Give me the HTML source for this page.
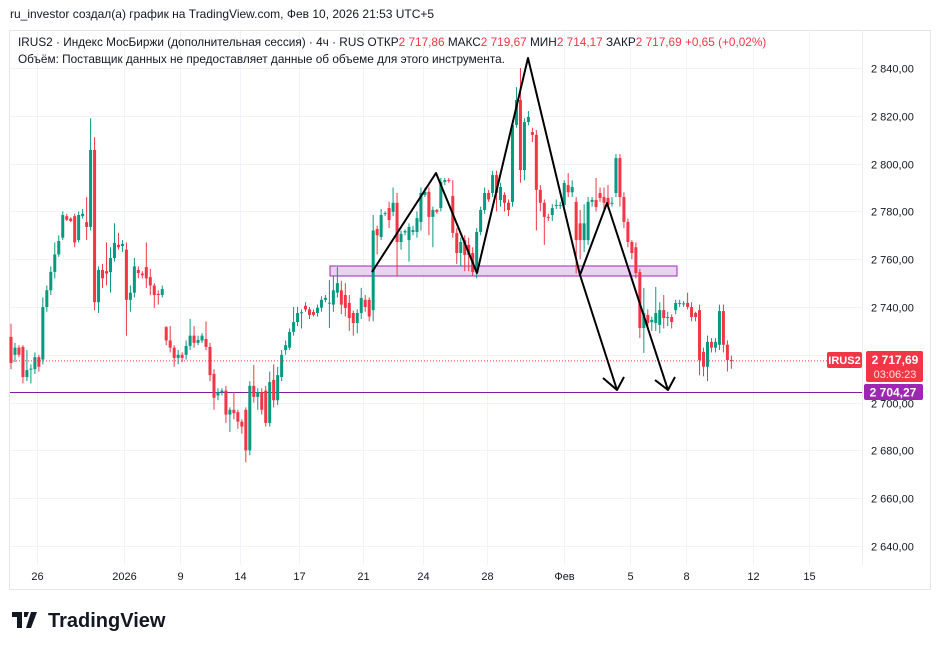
<!DOCTYPE html>
<html><head><meta charset="utf-8">
<style>
body{margin:0;background:#fff;width:941px;height:650px;overflow:hidden;font-family:"Liberation Sans","DejaVu Sans",sans-serif;}
svg{position:absolute;left:0;top:0}
</style></head>
<body>
<svg id="chart" width="941" height="650" xmlns="http://www.w3.org/2000/svg">
<text x="10" y="18" font-size="12" fill="#131722">ru_investor создал(а) график на TradingView.com, Фев 10, 2026 21:53 UTC+5</text>
<rect x="9.5" y="30.5" width="921" height="559" fill="none" stroke="#e6e6e6"/>
<g id="grid"></g>
<line x1="862.5" y1="30" x2="862.5" y2="565" stroke="#eee"/>
<g id="yaxis"></g>
<g id="xaxis"></g>
<rect x="330" y="266" width="347" height="10" fill="#ead3f2" stroke="#9c27b0" stroke-width="1"/>
<line x1="10" y1="392.5" x2="862" y2="392.5" stroke="#7b1fa2" stroke-width="1"/>
<g id="candles"></g>
<line id="lastline" x1="10" x2="862" stroke="#f23645" stroke-dasharray="1,2"/>
<g fill="none" stroke="#000" stroke-width="2" stroke-linejoin="round">
<polyline points="372,272 436,173 477,273 528,58 580,275 607,203 668,390"/>
<polyline points="580,275 617,390"/>
<polyline points="603,378 617,390 624,377"/>
<polyline points="655,380 668,390 675,377"/>
</g>
<g font-size="11.8" fill="#131722">
<text x="18" y="46">IRUS2 · Индекс МосБиржи (дополнительная сессия) · 4ч · RUS  ОТКР<tspan fill="#f23645">2 717,86</tspan>  МАКС<tspan fill="#f23645">2 719,67</tspan>  МИН<tspan fill="#f23645">2 714,17</tspan>  ЗАКР<tspan fill="#f23645">2 717,69</tspan> <tspan fill="#f23645">+0,65 (+0,02%)</tspan></text>
<text x="18" y="63">Объём: Поставщик данных не предоставляет данные об объеме для этого инструмента.</text>
</g>
<rect x="827" y="352" width="35" height="16" rx="2" fill="#f23645"/>
<text x="844.5" y="364" font-size="11" font-weight="bold" fill="#fff" text-anchor="middle">IRUS2</text>
<rect x="866" y="351" width="57" height="31" rx="2" fill="#f23645"/>
<text x="895" y="364" font-size="12" font-weight="bold" fill="#fff" text-anchor="middle">2 717,69</text>
<text x="895" y="378" font-size="11" fill="#fde0e3" text-anchor="middle">03:06:23</text>
<rect x="864" y="384" width="59" height="16" rx="2" fill="#9c27b0"/>
<text x="893" y="396.5" font-size="12" font-weight="bold" fill="#fff" text-anchor="middle">2 704,27</text>
<g>
<path d="M12 612h10v16h-5v-11h-5z M24 612h5l-2 5h-3z" fill="#131722"/>
<path d="M31 612h6l-6 16h-5z" fill="#131722"/>
<text x="48" y="627" font-size="20" font-weight="bold" fill="#131722">TradingView</text>
</g>
</svg>
<script>
const opens=[2727.5,2720,2723,2723.3,2710.7,2714,2714,2719,2718,2740,2747,2754.7,2762,2769,2778,2777,2778,2768,2778,2775.5,2773.5,2805.7,2742,2755.5,2755,2754.6,2760.5,2766,2765.5,2764,2743,2746,2755.5,2754,2756.7,2752.5,2749,2745.5,2745,2731.6,2726,2723,2718.7,2720,2720,2723.7,2728,2725,2726,2726.6,2723.3,2712,2703,2704.4,2705,2695,2697,2696,2692,2697,2680,2707,2702.4,2704.4,2705,2691.5,2709.5,2701,2710.7,2722,2723,2729.6,2733.7,2737.5,2740.5,2739,2737.9,2737.5,2739.7,2743,2741.7,2741,2746,2747,2745,2741.7,2737.5,2733.3,2737.5,2743,2743,2738.7,2772.6,2769.3,2779,2781.4,2779.8,2783.6,2767.2,2771.2,2768,2771.4,2771.4,2775.6,2786.9,2788.2,2777.7,2780.6,2781.4,2792.3,2793.1,2786.4,2771,2762.6,2768,2766,2762.6,2754.6,2771.4,2780.6,2787.7,2787.7,2795.2,2784.8,2786.9,2783.6,2784,2816.2,2826.6,2797.3,2817.4,2813.2,2812,2789,2783.6,2777.7,2778.5,2782.3,2782.7,2782.7,2791,2788,2784,2775,2768,2768,2784,2784.8,2787.7,2786,2785.6,2783.6,2787.7,2802.3,2786,2775.6,2767.2,2765,2754.6,2731.2,2736.7,2733.7,2733.3,2732.5,2738.7,2735.8,2735.8,2738.7,2741.7,2741.5,2741.7,2740,2737.5,2738.7,2721.2,2715,2725.4,2723,2724.2,2738.3,2724.2,2717.86];
const highs=[2733,2725,2724,2724,2722,2716,2721,2720,2744,2749,2757,2767,2770,2780,2779,2777.5,2779,2780,2781,2786,2819,2811,2757,2758,2767,2765,2775,2771,2768,2767,2749,2760.5,2757,2755,2767,2756,2750,2747,2749,2732,2732,2724,2722,2721,2726,2735,2732,2728,2729,2734,2725,2714,2706,2706,2707,2698,2704.4,2697,2693,2698,2709,2715.7,2706,2706,2707,2713,2716,2715,2722,2726,2731,2740,2740,2739,2742,2740,2739,2741,2744.5,2745,2751.3,2753,2756.7,2751,2750,2745,2738.5,2739,2748,2745,2744,2778.5,2774,2781,2780,2784,2790,2787.7,2772,2772.5,2775,2774,2780,2790,2790,2790,2782,2781,2794,2794,2794,2793,2773,2769,2770,2769,2765,2773,2782,2790,2789,2797,2797,2792,2788,2785,2818,2832,2840,2819,2822,2815,2814,2791,2785,2779,2783,2785,2784,2793,2796,2793,2786,2780.6,2783,2786,2786,2794,2790,2790,2791,2786,2804,2804,2788,2777,2768,2767,2756,2748,2739,2736,2748.4,2742,2745,2738,2737,2743,2743,2742.5,2746,2742,2738,2741,2723,2728,2727,2727,2741,2741,2726,2719.67];
const lows=[2714,2717,2719,2708,2709,2708,2712,2713,2716,2738,2745,2752,2761,2768,2776,2775.5,2765,2767,2777,2768,2772,2738.7,2737.5,2748,2749,2746,2759,2764,2763,2728,2738,2744,2752,2752,2748,2745,2739.6,2741,2744,2724,2721,2715,2716,2717,2718,2722,2723,2724,2725,2722,2709,2697,2701,2703,2691.5,2687.7,2693,2689,2687,2675,2678,2700,2697,2695,2690,2690,2698,2699,2709,2720,2722,2728,2732,2731,2738,2735,2736,2736,2738,2742,2731.2,2738,2744,2737,2736,2730,2728,2729,2735,2738,2734,2734,2762,2768,2778,2773,2778,2753,2764,2770,2759,2770,2769,2772,2786,2770,2765,2779,2780,2791,2792,2769,2758,2757,2755,2755,2753,2752,2770,2779,2784,2786,2780,2782,2780,2778,2782,2815,2792,2793,2816,2809,2772,2780,2766,2776,2776,2781,2781,2780,2786,2786,2754,2760,2763,2766,2782,2780,2784,2780,2781,2782,2786,2782,2773,2765,2760,2752,2727,2720.8,2731,2730,2730,2729,2731,2732,2731,2737,2740,2740,2739,2734,2734,2711.5,2711,2709,2721,2721,2722,2721,2713,2714.17];
const closes=[2716.6,2723,2720,2710.7,2713.6,2714.2,2719,2715,2740,2747,2754.7,2762,2767.6,2778.5,2776.5,2776,2767,2778.5,2779,2773.5,2805.7,2742,2755.5,2752,2754,2760.5,2766.8,2765,2766.4,2743,2746,2757,2754.2,2753.3,2752,2749,2745,2745,2747.5,2726,2723,2718.7,2720,2718.7,2723.7,2728,2725,2726.2,2728,2723.3,2711.5,2702,2704.4,2705,2695,2697,2695.6,2692,2690,2680,2707,2702.4,2704.4,2697,2691.5,2708.6,2701,2711.5,2720,2724,2729.6,2733.7,2737.5,2737.8,2739,2736.7,2736.7,2739.7,2743,2743.8,2741.8,2747,2750,2741,2739.6,2735.4,2733.3,2737.5,2743.8,2740,2736,2772,2770,2778.5,2779.3,2776.4,2783.6,2767.2,2770.6,2771.8,2773.5,2772.2,2777.2,2787.7,2788.2,2777.7,2780.6,2779.8,2792.3,2793.1,2793,2771,2762.6,2767.2,2761.8,2761.8,2754.6,2771.4,2780.6,2787.7,2785,2795.2,2787.7,2790.2,2783.6,2780.6,2816.2,2826.6,2797.3,2817.4,2819.5,2812,2789,2783.6,2777.7,2777.4,2781.4,2782.7,2782.7,2791.9,2788,2790.2,2768,2768,2775,2784,2784.8,2781.8,2785.6,2783.6,2782.7,2783.6,2802.3,2786,2775.6,2767.2,2762.6,2754.2,2731.2,2737.5,2733.3,2734.6,2737.5,2738.7,2735.4,2735.8,2733.7,2741.7,2741.7,2741.5,2740,2735.8,2735.8,2717.8,2715,2725.4,2723,2725.4,2738.3,2724.2,2717.8,2717.69];
const priceTicks=[2840,2820,2800,2780,2760,2740,2720,2700,2680,2660,2640];
const tickLabels=["2 840,00","2 820,00","2 800,00","2 780,00","2 760,00","2 740,00","2 720,00","2 700,00","2 680,00","2 660,00","2 640,00"];
const dateLabels=["26","2026","9","14","17","21","24","28","Фев","5","8","12","15"];
const dateIndex=[6.5,28.5,42.5,57.5,72.3,88.5,103.5,119.5,139,155.5,169.5,186.5,200.5];
const lastPrice=2717.69;

const NS="http://www.w3.org/2000/svg";
function yOf(p){return 68+(2840-p)*2.39;}
function xOf(i){return 11+i*3.98;}
function mk(tag,attrs,parent){const e=document.createElementNS(NS,tag);for(const k in attrs)e.setAttribute(k,attrs[k]);parent.appendChild(e);return e;}
const grid=document.getElementById('grid'),ya=document.getElementById('yaxis'),xa=document.getElementById('xaxis'),cg=document.getElementById('candles');
priceTicks.forEach((p,i)=>{
  const y=Math.round(yOf(p))+0.5;
  const l=mk('line',{x1:10,x2:862,y1:y,y2:y,stroke:'#f0f3fa'},grid);
  
  
  const t=mk('text',{x:871,y:y+4,'font-size':11,fill:'#131722'},ya);
  t.textContent=tickLabels[i];
  
  
});
dateLabels.forEach((d,i)=>{
  const x=Math.round(xOf(dateIndex[i]))+0.5;
  const l=mk('line',{x1:x,x2:x,y1:31,y2:565,stroke:'#f0f3fa'},grid);
  
  
  const t=mk('text',{x:x,y:580,'font-size':11,fill:'#131722','text-anchor':'middle'},xa);
  t.textContent=d;
  
  
});
const ll=document.getElementById('lastline');ll.setAttribute('y1',yOf(lastPrice)+0.5);ll.setAttribute('y2',yOf(lastPrice)+0.5);
for(let i=0;i<closes.length;i++){
  const up=closes[i]>=opens[i];const col=up?'#089981':'#f23645';
  const x=xOf(i);
  const w=mk('line',{x1:x,x2:x,y1:yOf(highs[i]),y2:yOf(lows[i]),stroke:col,'stroke-width':1},cg);
  
  
  const top=yOf(Math.max(opens[i],closes[i])),bot=yOf(Math.min(opens[i],closes[i]));
  const b=mk('rect',{x:x-1.5,y:top,width:3,height:Math.max(1,bot-top),fill:col},cg);
  
  
}
</script>
</body></html>
